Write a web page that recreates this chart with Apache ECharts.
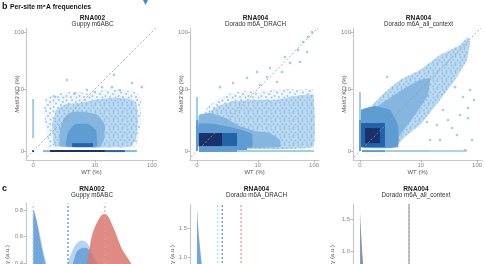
<!DOCTYPE html>
<html>
<head>
<meta charset="utf-8">
<script src="https://cdn.jsdelivr.net/npm/echarts@6/dist/echarts.min.js"></script>
<style>
html, body { margin: 0; padding: 0; background: #fff; }
#chart { width: 485px; height: 264px; }
</style>
</head>
<body>
<div id="chart"></div>
<script>
var FONT = '"Liberation Sans", Arial, sans-serif';

// axis ticks (percent) and density ticks
var pctTicks = [0, 10, 100];
var densTicksC1 = [0, 0.2, 0.4, 0.6, 0.8];
var densTicksC2 = [0, 0.5, 1.0, 1.5];
var densTicksC3 = [0, 0.5, 1.0, 1.5];

// panel b: density regions of the point cloud, [level, [[WT %, KO %], ...]]
var regionsB1 = [
    [1, [[0.93, 0.17], [0.66, 1.26], [0.53, 3.54], [0.59, 6.24], [0.93, 7.45], [1.85, 8.5], [3.2, 8.88],
        [5.19, 8.88], [8.14, 8.14], [12.4, 9.27], [18.8, 9.7], [28.2, 9.7], [41.9, 9.27], [57.6, 8.5],
        [64.8, 6.24], [64.8, 3.04], [62.3, 1.26], [57.6, 0.53], [51.2, 0.17]]],
    [2, [[1.35, 0.21], [1.09, 1.74], [1.44, 3.9], [2.59, 5.19], [5.19, 5.44], [10.1, 6.24], [18.8, 6.82],
        [34.4, 6.82], [53.2, 5.69], [57.6, 2.32], [53.2, 0.53], [41.9, 0.17]]],
    [3, [[1.85, 0.21], [1.85, 1.26], [2.32, 2.59], [3.54, 3.54], [6.52, 3.54], [11.4, 3.04], [15.3, 1.74],
        [14.6, 0.53], [12.4, 0.17]]],
    [4, [[2.59, 0.21], [2.88, 1.09], [4.1, 1.85], [7.45, 1.85], [10.5, 1.26], [10.9, 0.21]]]
];
// strips and small blocks, [WT from, WT to, KO from, KO to, level]
var blocksB1 = [
    [3.54, 9.23, 0.17, 0.36, 5],
    [0.47, 0.93, 0, 0, 3],
    [0.93, 15.3, 0, 0, 6],
    [15.3, 34.4, 0, 0, 5],
    [34.4, 55.3, 0, 0, 3],
    [0, 0, 0.655, 6.51, 2],
    [0, 0, 0, 0, 6]
];
var dotsB1 = [[2.73, 14.7], [22.1, 18.1], [7.11, 9.6], [13.5, 10.9], [20.4, 10.9], [45.4, 12.9],
    [67.4, 10.9], [1.35, 7.11], [4.09, 8.48], [28.2, 9.6], [10.0, 8.85]];

var regionsB2 = [
    [1, [[0.08, 0.17], [0.08, 2.59], [0.27, 3.54], [0.67, 4.96], [1.48, 6.82], [2.98, 8.5], [5.64, 9.27],
        [11.0, 8.88], [20.7, 9.7], [38.1, 10.1], [61.8, 9.7], [95.9, 10.1], [95.9, 0.17]]],
    [2, [[0.08, 0.17], [0.08, 1.74], [0.42, 3.04], [1.29, 4.73], [3.47, 5.96], [8.84, 6.24], [20.7, 6.24],
        [38.1, 7.13], [95.9, 7.79], [95.9, 0.17]]],
    [3, [[0.08, 0.17], [0.08, 3.04], [0.67, 3.36], [2.02, 2.59], [4.45, 1.64], [8.84, 1.17], [16.8, 1.01],
        [25.3, 0.53], [25.3, 0.17]]],
    [4, [[0.08, 0.17], [0.08, 1.85], [1.03, 1.85], [2.67, 1.53], [5.64, 1.17], [7.75, 0.93], [7.75, 0.17]]]
];
var blocksB2 = [
    [0.08, 3.84, 0.21, 1.01, 5],
    [0.08, 1.68, 0.21, 1.01, 6],
    [0.08, 6.18, 0.04, 0.21, 4],
    [0.08, 3.84, 0, 0, 4],
    [3.84, 100, 0, 0, 2],
    [0, 0, 2.32, 7.11, 2],
    [0, 0, 0, 2.32, 4]
];
var dotsB2 = [[6.18, 16.0], [9.65, 20.4], [16.8, 24.0], [27.5, 20.4], [38.1, 29.4], [57.1, 30.5],
    [75.5, 45.4], [92, 99], [52.6, 49.1], [11.0, 11.9], [22.4, 13.5], [1.48, 10.9], [3.14, 12.9],
    [14.8, 16.6], [64.3, 67.4], [78.6, 82.0], [31.1, 37.2]];

var regionsB3 = [
    [2, [[0.08, 2.59], [0.22, 3.36], [1.2, 7.13], [2.26, 10.5], [3.84, 14.7], [9.65, 22.1], [22.4, 40.3],
        [50.6, 59.9], [69.7, 82.0], [75.5, 67.4], [67.0, 33.0], [41.3, 14.7], [22.4, 6.24], [9.65, 1.74],
        [4.89, 0.72], [2.98, 0.17], [0.08, 0.17]]],
    [3, [[0.13, 2.08], [0.81, 4.3], [2.26, 6.82], [4.89, 10.5], [9.65, 14.7], [14.8, 15.9], [13.6, 7.79],
        [7.75, 3.04], [3.84, 0.86], [2.53, 0.17], [0.08, 0.17]]],
    [4, [[0.04, 0.17], [0.04, 3.9], [0.81, 4.73], [2.26, 3.9], [3.47, 1.74], [3.47, 0.17]]]
];
var blocksB3 = [
    [0.04, 1.68, 0.17, 1.96, 5],
    [0.22, 1.20, 0.36, 1.44, 6],
    [0.08, 1.68, 0, 0, 4],
    [1.68, 14.8, 0, 0, 2],
    [14.8, 67.0, 0, 0, 1],
    [0, 0, 2.32, 8.85, 2],
    [0, 0, 0, 2.32, 4]
];
var dotsB3 = [[41.3, 10.9], [57.1, 7.11], [69.7, 4.29], [69.7, 2.59], [25.3, 3.9], [19.8, 1.74],
    [13.0, 2.08], [44.8, 0.86], [81.8, 0.53], [61.8, 0.04], [31.1, 2.32], [36.6, 1.44], [22.4, 0.53],
    [50.6, 3.04], [75.5, 9.6], [88.5, 6.22], [1.91, 16.6], [14.8, 0.53]];

// panel c: density curves, [WT %, density]
var lightC1 = [[0, 0.74], [0.05, 0.76], [0.15, 0.72], [0.3, 0.62], [0.47, 0.5], [0.65, 0.41], [1.0, 0.26],
    [1.5, 0.15], [2.0, 0.12], [2.4, 0.22], [2.88, 0.40], [3.77, 0.51], [4.79, 0.56], [5.87, 0.57],
    [7.2, 0.55], [8.73, 0.485], [10.0, 0.40], [13, 0.22], [18, 0.08], [30, 0.01]];
var medC1 = [[0, 0.78], [0.02, 0.80], [0.12, 0.74], [0.28, 0.60], [0.43, 0.49], [0.59, 0.40], [0.9, 0.25],
    [1.5, 0.12], [2.2, 0.1], [3.0, 0.22], [3.72, 0.40], [4.44, 0.485], [5.4, 0.51], [6.8, 0.515],
    [8.73, 0.47], [10.8, 0.40], [14, 0.22], [19, 0.08], [30, 0.01]];
var redC1 = [[0, 0.0], [3, 0.05], [5.5, 0.2], [7.2, 0.40], [8.73, 0.60], [10.8, 0.70], [13.3, 0.76],
    [15.3, 0.77], [17.6, 0.75], [21.5, 0.67], [25, 0.60], [30.2, 0.51], [36.8, 0.45], [43.6, 0.40],
    [60, 0.25], [100, 0.08]];
var medianC1 = [0, 2.88, 15.3];

var lightC2 = [[0, 1.86], [0.03, 1.55], [0.08, 1.25], [0.14, 1.0], [0.3, 0.6], [0.7, 0.25], [1.5, 0.08], [3, 0.02]];
var medC2 = [[0, 1.83], [0.05, 1.5], [0.11, 1.24], [0.17, 1.0], [0.3, 0.65], [0.6, 0.3], [1.2, 0.1], [3, 0.02]];
var medianC2 = [1.26, 1.71, 4.67];

var redC3 = [[0, 1.65], [0.01, 1.55], [0.04, 1.3], [0.09, 1.0], [0.2, 0.6], [0.5, 0.2], [1.5, 0.03]];
var medC3 = [[0, 1.46], [0.02, 1.4], [0.05, 1.2], [0.08, 0.98], [0.2, 0.55], [0.5, 0.2], [1.5, 0.03]];
var medianC3 = [5.9, 5.9];

// colours
var levelColors = ['#ffffff', '#b0d3ef', '#a3cbeb', '#84b6e0', '#5f9cd2', '#2563a8', '#1a326c'];
var cLight = '#a9cdee', cMed = '#5f9bd3', cRed = '#d9776d';
var axisGray = '#c8c8c8';

function lg(v) { return Math.log10(1 + v); }
function fmtPct(v) { return String(Math.round(Math.pow(10, v) - 1)); }

// dotted texture for the sparse parts of the cloud
function dotTile(bg, color, w, h, spots) {
    var c = document.createElement('canvas');
    c.width = w; c.height = h;
    var ctx = c.getContext('2d');
    if (bg) { ctx.fillStyle = bg; ctx.fillRect(0, 0, w, h); }
    ctx.fillStyle = color;
    spots.forEach(function (s) { ctx.beginPath(); ctx.arc(s[0], s[1], 0.95, 0, 2 * Math.PI); ctx.fill(); });
    return {image: c, repeat: 'repeat'};
}
var levelFill = levelColors.slice();
levelFill[1] = dotTile('#f1f7fc', '#97c4e8', 13, 11,
    [[1.5, 1.5], [7, 1], [11, 3], [4, 4.5], [9, 6], [1.5, 8], [6, 9], [11.5, 9.5]]);
levelFill[2] = dotTile('#bcdaf1', '#8fbfe6', 9, 8,
    [[1.5, 1.5], [5.5, 1], [3.5, 4], [7.5, 4.5], [1, 6.5], [5.5, 7]]);

var myChart = echarts.init(document.getElementById('chart'));

var grids = [
    {left: 26, top: 28, width: 131, height: 132},
    {left: 190, top: 28, width: 129.1, height: 132},
    {left: 353, top: 28, width: 129.1, height: 132},
    {left: 26, top: 203.4, width: 131, height: 112.6},
    {left: 190, top: 204.8, width: 129.1, height: 110.2},
    {left: 353, top: 204, width: 129.1, height: 113.1}
];
grids.forEach(function (g) { g.outerBoundsMode = 'none'; g.containLabel = false; });

function pctXAxis(i) {
    return {
        type: 'value', gridIndex: i, min: -0.12, max: 2.09,
        name: 'WT (%)', nameLocation: 'middle', nameGap: 9, nameMoveOverlap: false,
        nameTextStyle: {fontFamily: FONT, fontSize: 6, color: '#555'},
        axisLine: {onZero: false, lineStyle: {color: axisGray, width: 1.2}},
        axisTick: {customValues: pctTicks.map(lg), length: 2.5, lineStyle: {color: '#aaa', width: 0.8}},
        axisLabel: {customValues: pctTicks.map(lg), formatter: fmtPct, fontFamily: FONT, fontSize: 6, color: '#888', margin: 2},
        splitLine: {show: false}
    };
}
function pctYAxis(i) {
    return {
        type: 'value', gridIndex: i, min: -0.15, max: 2.07,
        name: '{i|Mettl3} KO (%)', nameLocation: 'middle', nameGap: 6, nameMoveOverlap: false,
        nameTextStyle: {fontFamily: FONT, fontSize: 6, color: '#555', rich: {i: {fontStyle: 'italic', fontFamily: FONT, fontSize: 6, color: '#555'}}},
        axisLine: {onZero: false, lineStyle: {color: axisGray, width: 1.2}},
        axisTick: {customValues: pctTicks.map(lg), length: 2.5, lineStyle: {color: '#aaa', width: 0.8}},
        axisLabel: {customValues: pctTicks.map(lg), formatter: fmtPct, fontFamily: FONT, fontSize: 6, color: '#888', margin: 2},
        splitLine: {show: false}
    };
}
function hiddenXAxis(i) {
    return {type: 'value', gridIndex: i, min: -0.12, max: 2.09, show: false};
}
function densYAxis(i, max, ticks) {
    return {
        type: 'value', gridIndex: i, min: 0, max: max,
        axisLine: {onZero: false, lineStyle: {color: axisGray, width: 1.2}},
        axisTick: {customValues: ticks, length: 2.5, lineStyle: {color: '#aaa', width: 0.8}},
        axisLabel: {customValues: ticks, formatter: function (v) { return v.toFixed(1); },
            fontFamily: FONT, fontSize: 6, color: '#888', margin: 3},
        splitLine: {show: false}
    };
}

function regionSeries(regions, idx) {
    return {
        type: 'custom', xAxisIndex: idx, yAxisIndex: idx, silent: true, z: 2,
        data: regions.map(function (r) { return [lg(r[1][0][0]), lg(r[1][0][1])]; }),
        renderItem: function (params, api) {
            var r = regions[params.dataIndex];
            var pts = r[1].map(function (p) { return api.coord([lg(p[0]), lg(p[1])]); });
            return {
                type: 'polygon',
                shape: {points: pts, smooth: 0.1},
                style: {fill: levelFill[r[0]]}
            };
        }
    };
}
function blockSeries(blocks, idx) {
    return {
        type: 'custom', xAxisIndex: idx, yAxisIndex: idx, silent: true, z: 2,
        encode: {x: [0, 1], y: [2, 3]},
        data: blocks.map(function (b) { return [lg(b[0]), lg(b[1]), lg(b[2]), lg(b[3]), b[4]]; }),
        renderItem: function (params, api) {
            var a = api.coord([api.value(0), api.value(2)]);
            var b = api.coord([api.value(1), api.value(3)]);
            var x0 = Math.min(a[0], b[0]), x1 = Math.max(a[0], b[0]);
            var y0 = Math.min(a[1], b[1]), y1 = Math.max(a[1], b[1]);
            if (x1 - x0 < 2) { x0 -= 1; x1 += 1; }
            if (y1 - y0 < 2) { y0 -= 1; y1 += 1; }
            return {
                type: 'rect',
                shape: {x: x0, y: y0, width: x1 - x0, height: y1 - y0},
                style: {fill: levelColors[api.value(4)]}
            };
        }
    };
}
function dotSeries(dots, idx) {
    return {
        type: 'scatter', xAxisIndex: idx, yAxisIndex: idx, silent: true, z: 3,
        symbolSize: 2.6, itemStyle: {color: '#8fc0e5'},
        data: dots.map(function (d) { return [lg(d[0]), lg(d[1])]; })
    };
}
function diagSeries(idx) {
    // identity line across the panel
    return {
        type: 'line', xAxisIndex: idx, yAxisIndex: idx, silent: true, z: 4, symbol: 'none',
        data: [[-0.1, -0.1], [2.07, 2.07]],
        lineStyle: {color: '#999', width: 0.8, type: [2, 2]}
    };
}
function areaSeries(pts, idx, color, op) {
    return {
        type: 'line', xAxisIndex: idx, yAxisIndex: idx, silent: true, z: 2, symbol: 'none',
        smooth: 0.3,
        data: pts.map(function (p) { return [lg(p[0]), p[1]]; }),
        lineStyle: {width: 0},
        areaStyle: {color: color, opacity: op}
    };
}
function medianSeries(v, idx, ymax, color, offset) {
    return {
        type: 'line', xAxisIndex: idx, yAxisIndex: idx, silent: true, z: 5, symbol: 'none',
        data: [[lg(v), 0], [lg(v), ymax]],
        lineStyle: {color: color, width: 1.1, type: [2, 2], dashOffset: offset || 0}
    };
}

function txt(x, y, s, size, weight, color, align) {
    return {
        type: 'text', x: x, y: y, silent: true,
        style: {text: s, fontFamily: FONT, fontSize: size, fontWeight: weight || 'normal',
            fill: color || '#222', align: align || 'center', verticalAlign: 'middle'}
    };
}
function vtxt(x, y, s) {
    return {
        type: 'text', x: x, y: y, rotation: Math.PI / 2, silent: true,
        style: {text: s, fontFamily: FONT, fontSize: 6, fill: '#555', align: 'right', verticalAlign: 'middle'}
    };
}

var option = {
    animation: false,
    grid: grids,
    xAxis: [pctXAxis(0), pctXAxis(1), pctXAxis(2), hiddenXAxis(3), hiddenXAxis(4), hiddenXAxis(5)],
    yAxis: [pctYAxis(0), pctYAxis(1), pctYAxis(2),
        densYAxis(3, 0.85, densTicksC1), densYAxis(4, 1.9, densTicksC2), densYAxis(5, 1.73, densTicksC3)],
    series: [
        regionSeries(regionsB1, 0), blockSeries(blocksB1, 0), dotSeries(dotsB1, 0), diagSeries(0),
        regionSeries(regionsB2, 1), blockSeries(blocksB2, 1), dotSeries(dotsB2, 1), diagSeries(1),
        regionSeries(regionsB3, 2), blockSeries(blocksB3, 2), dotSeries(dotsB3, 2), diagSeries(2),
        areaSeries(lightC1, 3, cLight, 0.85), areaSeries(medC1, 3, cMed, 0.8), areaSeries(redC1, 3, cRed, 0.85),
        medianSeries(medianC1[0], 3, 0.85, '#9fcaee'), medianSeries(medianC1[1], 3, 0.85, '#3b86cf'),
        medianSeries(medianC1[2], 3, 0.85, '#e89a92'),
        areaSeries(lightC2, 4, cLight, 0.85), areaSeries(medC2, 4, cMed, 0.8),
        medianSeries(medianC2[0], 4, 1.9, '#a9d0f0'), medianSeries(medianC2[1], 4, 1.9, '#3b86cf'),
        medianSeries(medianC2[2], 4, 1.9, '#e68c84'),
        areaSeries(redC3, 5, cRed, 0.85), areaSeries(medC3, 5, cMed, 0.8),
        medianSeries(medianC3[0], 5, 1.73, '#3b86cf', 0), medianSeries(medianC3[1], 5, 1.73, '#e0776d', 2)
    ],
    graphic: [
        txt(2, 7, 'b', 9, 'bold', '#111', 'left'),
        txt(10, 7, 'Per-site m\u2076A frequencies', 6.8, 'bold', '#111', 'left'),
        {type: 'polygon', silent: true, shape: {points: [[143, 0], [148, 0], [145.5, 5]]}, style: {fill: '#3d8bd4'}},
        txt(92.5, 17.7, 'RNA002', 6.6, 'bold'), txt(92.5, 24.3, 'Guppy m6ABC', 6.3, 'normal', '#333'),
        txt(255.5, 17.7, 'RNA004', 6.6, 'bold'), txt(255.5, 24.3, 'Dorado m6A_DRACH', 6.3, 'normal', '#333'),
        txt(418.5, 17.7, 'RNA004', 6.6, 'bold'), txt(418.5, 24.3, 'Dorado m6A_all_context', 6.3, 'normal', '#333'),
        txt(2, 189, 'c', 9, 'bold', '#111', 'left'),
        txt(92, 189.3, 'RNA002', 6.6, 'bold'), txt(92, 195.7, 'Guppy m6ABC', 6.3, 'normal', '#333'),
        txt(256.5, 189.3, 'RNA004', 6.6, 'bold'), txt(256.5, 195.7, 'Dorado m6A_DRACH', 6.3, 'normal', '#333'),
        txt(416, 189.3, 'RNA004', 6.6, 'bold'), txt(416, 195.7, 'Dorado m6A_all_context', 6.3, 'normal', '#333'),
        vtxt(7, 245, 'Density (a.u.)'), vtxt(172, 245, 'Density (a.u.)'), vtxt(332, 245, 'Density (a.u.)')
    ]
};

myChart.setOption(option);
</script>
</body>
</html>
